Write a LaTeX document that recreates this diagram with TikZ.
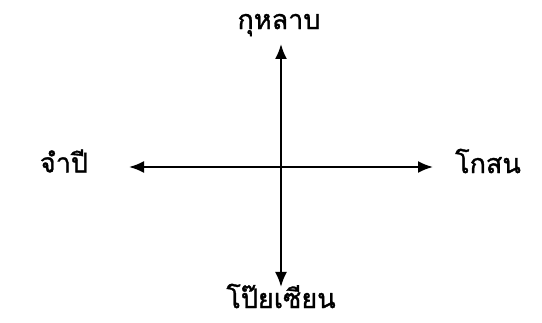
\documentclass[tikz,border=0pt]{standalone}
\usepackage{fontspec}
\newfontfamily\thaifont[Script=Thai,FakeBold=1.2]{Loma}
\usetikzlibrary{arrows.meta}
\begin{document}
\begin{tikzpicture}[x=1pt,y=1pt,
  lbl/.style={font=\thaifont\fontsize{27}{30}\selectfont, inner sep=0pt},
  axis/.style={line width=2pt, {Latex[length=15pt,width=12pt]}-{Latex[length=15pt,width=12pt]}}]
\useasboundingbox (0,0) rectangle (542,322);
\coordinate (vt) at (281,322-44);
\coordinate (vb) at (281,322-287);
\coordinate (hl) at (129,322-167);
\coordinate (hr) at (433,322-167);
\draw[axis] (vb) -- (vt);
\draw[axis] (hl) -- (hr);
\node[lbl] (top) at (279,322-25) {กุหลาบ};
\node[lbl] (bot) at (281,322-296) {โป๊ยเซียน};
\node[lbl] (left) at (64,322-161) {จำปี};
\node[lbl] (right) at (488,322-161) {โกสน};
\end{tikzpicture}
\end{document}
